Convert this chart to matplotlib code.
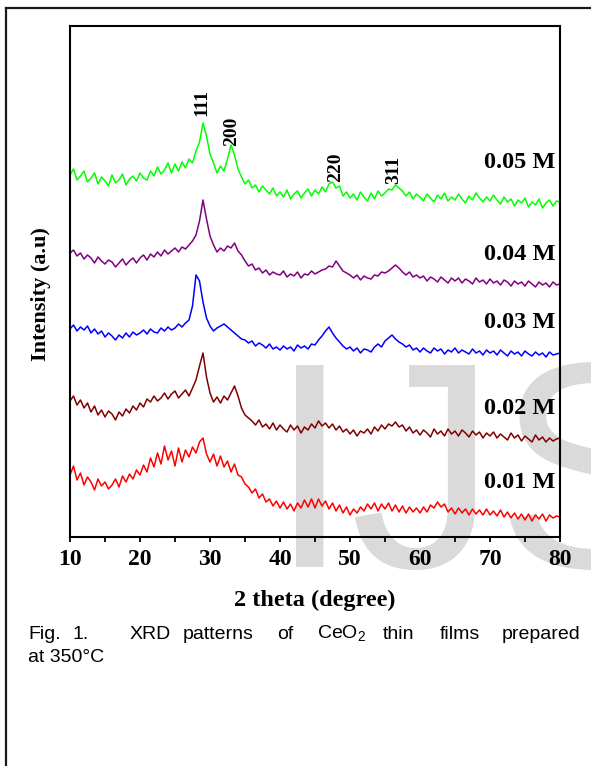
import numpy as np
import matplotlib
matplotlib.use('Agg')
import matplotlib.pyplot as plt
from matplotlib.lines import Line2D

# ---------------- data (intensity, arbitrary units; 2theta 10..80 step 0.5) -------------
i_005 = [362, 368, 357, 361, 366, 355, 359, 364, 353, 360,
         356, 351, 362, 354, 357, 363, 352, 358, 361, 356,
         364, 359, 357, 366, 361, 370, 363, 367, 374, 364,
         373, 366, 375, 369, 378, 374, 386, 395, 414, 401,
         383, 374, 364, 371, 366, 378, 392, 382, 368, 360,
         353, 357, 349, 352, 345, 351, 347, 343, 349, 341,
         345, 340, 347, 338, 343, 346, 339, 344, 348, 341,
         347, 343, 350, 345, 353, 355, 349, 351, 341, 345,
         339, 343, 337, 345, 340, 336, 344, 338, 346, 341,
         344, 348, 347, 352, 349, 346, 341, 345, 338, 343,
         340, 336, 343, 339, 335, 342, 338, 344, 336, 340,
         337, 343, 338, 334, 341, 337, 344, 339, 335, 340,
         336, 342, 337, 333, 340, 335, 338, 331, 337, 334,
         339, 330, 335, 332, 338, 329, 334, 337, 331, 336,
         335]

i_004 = [284, 287, 281, 284, 278, 282, 279, 274, 280, 276,
         273, 277, 275, 270, 274, 278, 272, 276, 279, 274,
         279, 282, 277, 283, 280, 285, 281, 287, 283, 286,
         289, 285, 290, 288, 292, 296, 302, 316, 337, 318,
         301, 292, 285, 289, 286, 291, 289, 294, 286, 282,
         276, 271, 273, 267, 269, 264, 267, 262, 265, 263,
         262, 266, 260, 263, 261, 265, 259, 263, 262, 266,
         263, 265, 267, 268, 271, 270, 276, 271, 266, 264,
         262, 259, 262, 257, 261, 259, 258, 262, 261, 265,
         264, 266, 269, 272, 269, 265, 262, 265, 260, 262,
         259, 261, 256, 260, 258, 255, 260, 257, 254, 259,
         256, 259, 254, 258, 256, 253, 259, 255, 257, 253,
         258, 254, 256, 252, 257, 255, 251, 256, 253, 255,
         251, 256, 253, 250, 255, 252, 254, 250, 255, 252,
         253]

i_003 = [208, 212, 206, 210, 207, 211, 204, 208, 203, 206,
         200, 204, 201, 197, 202, 199, 204, 200, 205, 202,
         204, 207, 203, 208, 205, 204, 209, 206, 210, 207,
         209, 213, 210, 214, 217, 231, 262, 256, 235, 219,
         211, 206, 209, 211, 213, 210, 207, 204, 201, 198,
         197, 194, 196, 191, 194, 192, 189, 193, 188, 190,
         187, 191, 188, 190, 186, 192, 189, 191, 188, 193,
         192, 197, 201, 206, 210, 204, 199, 195, 191, 188,
         190, 186, 189, 184, 188, 187, 185, 190, 193, 190,
         196, 199, 202, 198, 195, 193, 190, 192, 187, 189,
         185, 189, 186, 184, 189, 186, 188, 183, 187, 185,
         189, 184, 187, 185, 183, 188, 184, 186, 182, 187,
         184, 186, 182, 187, 184, 181, 186, 183, 185, 181,
         186, 183, 181, 185, 182, 184, 180, 185, 182, 183,
         184]

i_002 = [136, 141, 132, 137, 129, 134, 125, 131, 122, 127,
         120, 126, 123, 117, 125, 121, 128, 124, 131, 127,
         134, 130, 138, 135, 141, 136, 139, 144, 138, 143,
         146, 139, 143, 147, 141, 149, 157, 171, 184, 160,
         144, 135, 140, 134, 141, 137, 144, 151, 141, 129,
         122, 119, 116, 112, 117, 110, 113, 108, 114, 107,
         112, 108, 105, 112, 107, 111, 104, 110, 107, 113,
         109, 116, 111, 114, 109, 113, 107, 111, 105, 108,
         103, 107, 101, 106, 104, 108, 103, 110, 106, 112,
         108, 113, 111, 115, 110, 112, 106, 110, 104, 107,
         102, 107, 104, 100, 108, 103, 106, 101, 108, 103,
         106, 101, 107, 104, 100, 106, 102, 105, 99, 104,
         101, 105, 99, 103, 100, 97, 104, 99, 102, 96,
         101, 98, 95, 102, 97, 100, 95, 99, 96, 98,
         99]

i_001 = [62, 71, 57, 64, 52, 60, 55, 47, 58, 51,
         55, 48, 52, 58, 50, 61, 55, 63, 58, 67,
         62, 72, 65, 79, 70, 84, 73, 91, 77, 86,
         71, 89, 75, 87, 80, 90, 84, 95, 99, 83,
         75, 83, 71, 81, 70, 76, 65, 73, 62, 60,
         53, 50, 44, 48, 39, 43, 35, 38, 31, 36,
         29, 35, 28, 33, 26, 34, 29, 37, 30, 38,
         29, 38, 31, 36, 28, 34, 26, 32, 24, 30,
         22, 28, 24, 30, 26, 33, 28, 34, 26, 33,
         28, 34, 26, 32, 25, 31, 24, 30, 25, 29,
         24, 30, 25, 32, 29, 35, 30, 33, 25, 29,
         23, 29, 24, 28, 22, 28, 23, 27, 22, 28,
         22, 26, 21, 27, 20, 25, 19, 24, 18, 23,
         17, 23, 16, 22, 18, 23, 16, 22, 19, 21,
         20]

series_labels = ['0.05 M', '0.04 M', '0.03 M', '0.02 M', '0.01 M']
series_colors = ['#00ff00', '#800080', '#0000ff', '#800000', '#ff0000']
series_values = [i_005, i_004, i_003, i_002, i_001]
label_levels = [374, 282, 215, 129, 54]

peak_names = ['111', '200', '220', '311']
peak_pos = [28.9, 33.1, 47.9, 56.3]
peak_text_y = [434, 406, 370, 367]

x_ticks = [10, 20, 30, 40, 50, 60, 70, 80]

# ---------------- figure ----------------
W, H = 591, 766
plt.rcParams['font.family'] = ['Liberation Serif', 'DejaVu Serif']
plt.rcParams['font.weight'] = 'bold'
plt.rcParams['mathtext.fontset'] = 'custom'
plt.rcParams['mathtext.rm'] = 'Liberation Sans'
fig = plt.figure(figsize=(W / 100, H / 100), dpi=100)


def fx(x):
    return x / W


def fy(y):
    return 1 - y / H


# watermark
fig.text(fx(269.5), fy(567), 'IJS', fontsize=211, family='Liberation Sans',
         fontweight='normal', color='#dadada', ha='left', va='baseline', zorder=-5)

# outer frame (left and top edges)
fig.add_artist(Line2D([fx(6), fx(6)], [fy(8), 0], transform=fig.transFigure,
                      color='#1a1a1a', lw=1.6))
fig.add_artist(Line2D([fx(6), 1], [fy(8), fy(8)], transform=fig.transFigure,
                      color='#1a1a1a', lw=1.6))

ax = fig.add_axes([fx(70), fy(537), (560 - 70) / W, (537 - 26) / H])
ax.patch.set_alpha(0)

for vals, col in zip(series_values, series_colors):
    tt = np.linspace(10, 80, len(vals))
    ax.plot(tt, vals, color=col, lw=1.1)

for lab, lev in zip(series_labels, label_levels):
    ax.text(79.3, lev, lab, ha='right', va='center', fontsize=17.5,
            fontweight='bold')

for name, p, ty in zip(peak_names, peak_pos, peak_text_y):
    ax.text(p, ty, name, rotation=90, ha='center', va='center',
            fontsize=14, fontweight='bold')

ax.set_xlim(10, 80)
ax.set_ylim(0, 511)
ax.set_yticks([])
ax.set_xticks(x_ticks)
ax.set_xticks([15, 25, 35, 45, 55, 65, 75], minor=True)
ax.tick_params(axis='x', which='both', direction='out', length=3.5, width=1.3,
               labelsize=17, pad=5)
for s in ax.spines.values():
    s.set_linewidth(1.5)

# axis labels
fig.text(fx(315), fy(606), '2 theta (degree)', ha='center', va='baseline',
         fontsize=17.5, fontweight='bold')
fig.text(fx(41), fy(294), 'Intensity (a.u)', rotation=90, ha='center',
         va='center', fontsize=16, fontweight='bold')

# caption (justified first line)
cap_words = ['Fig.', '1.', 'XRD', 'patterns', 'of', 'CeO$_{\\mathregular{2}}$',
             'thin', 'films', 'prepared']
cap_x = [28, 72, 130, 183, 277, 317, 383, 440, 502]
for w, xx in zip(cap_words, cap_x):
    fig.text(fx(xx), fy(639), w, ha='left', va='baseline', fontsize=14,
             family='Liberation Sans', fontweight='normal')
fig.text(fx(28), fy(662), 'at 350°C', ha='left', va='baseline', fontsize=14,
         family='Liberation Sans', fontweight='normal')

fig.savefig('out.png', dpi=100)
